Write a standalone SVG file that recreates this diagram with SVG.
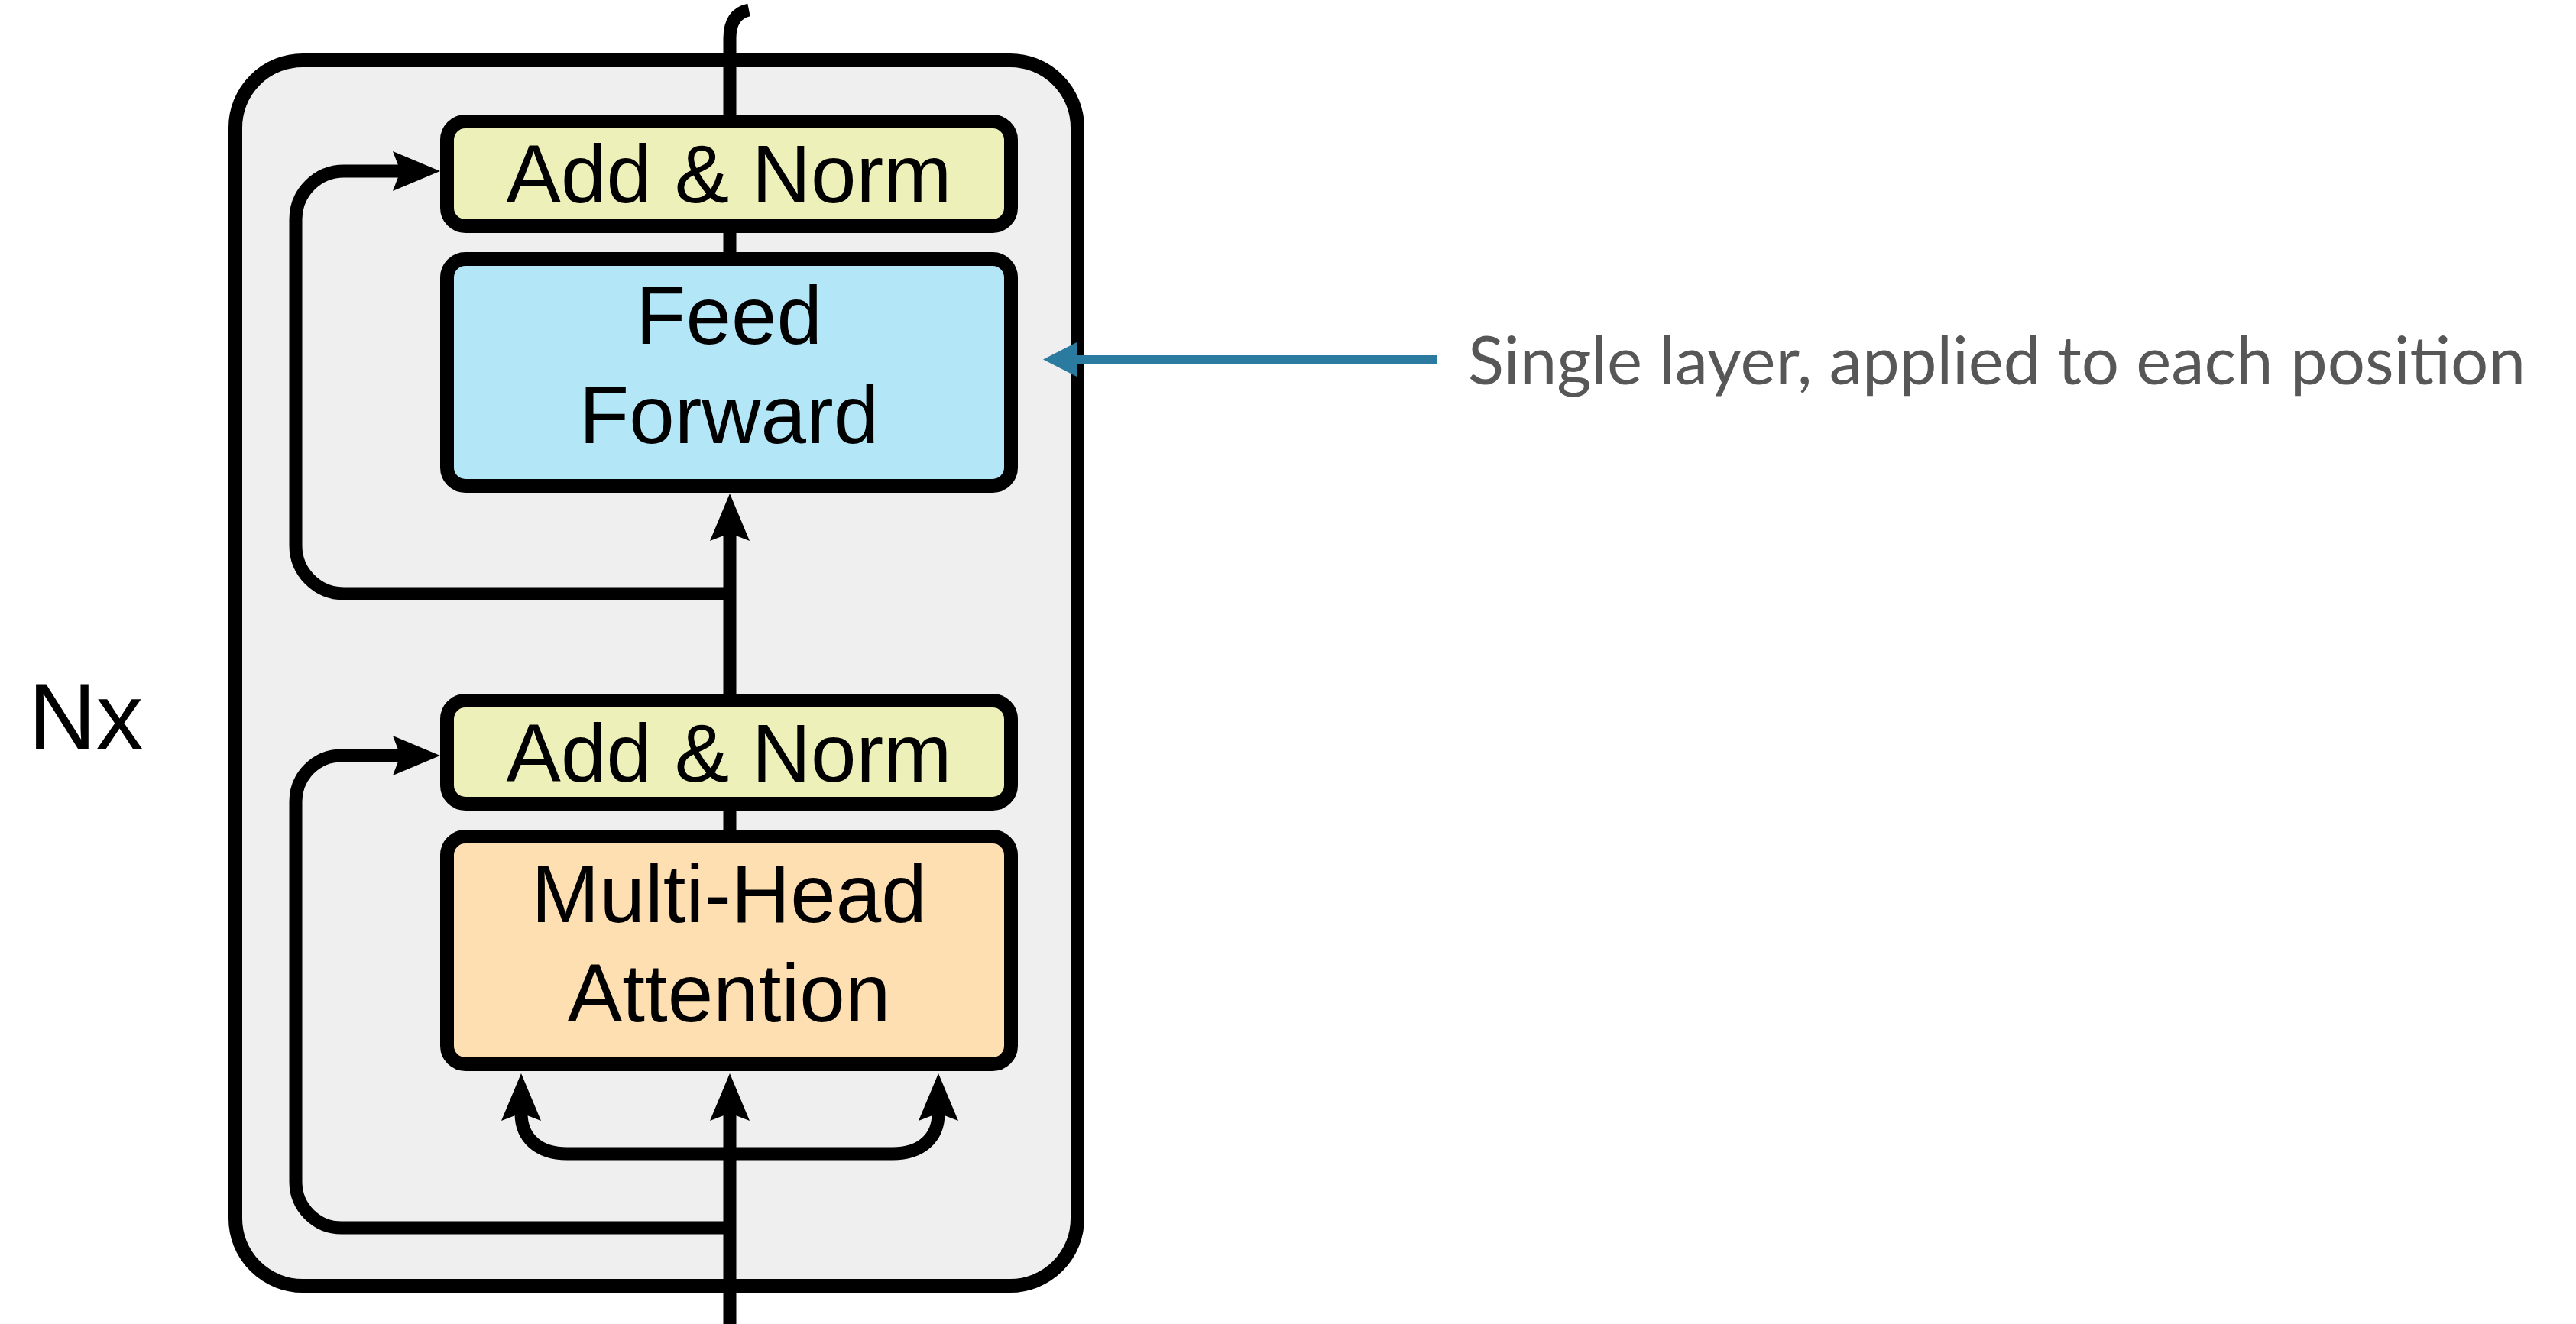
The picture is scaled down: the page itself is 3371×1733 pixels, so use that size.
<svg xmlns="http://www.w3.org/2000/svg" width="3371" height="1733" viewBox="0 0 3371 1733">
  <style>
    .box { stroke: #000; stroke-width: 18; }
    .lbl { font-family: "Liberation Sans", Arial, sans-serif; font-size: 107px; fill: #000; text-anchor: middle; }
    .conn { fill: none; stroke: #000; stroke-width: 17; }
    .note { font-family: Lato, "Open Sans", sans-serif; font-size: 87px; fill: #575757; text-anchor: end; }
  </style>
  <defs>
    <marker id="ah" markerUnits="userSpaceOnUse" viewBox="0 0 62 52" markerWidth="62" markerHeight="52" refX="10" refY="26" orient="auto">
      <path d="M0,0 L62,26 L0,52 L10,26 Z" fill="#000"/>
    </marker>
    <marker id="ahb" markerUnits="userSpaceOnUse" viewBox="0 0 44 45" markerWidth="44" markerHeight="45" refX="0" refY="22.5" orient="auto">
      <path d="M0,0 L44,22.5 L0,45 Z" fill="#2b7ba0"/>
    </marker>
  </defs>
  <rect width="3371" height="1733" fill="#fff"/>

  <g id="layer-frame">
    <rect x="308" y="79" width="1102" height="1604" rx="88" ry="88" fill="#efefef" stroke="#000" stroke-width="18"/>
  </g>

  <g id="connectors">
    <path class="conn" d="M 980 13 Q 955 18 955 50 L 955 165"/>
    <path class="conn" d="M 955 290 L 955 345"/>
    <path class="conn" d="M 955 922 L 955 698" marker-end="url(#ah)"/>
    <path class="conn" d="M 955 1046 L 955 1100"/>
    <path class="conn" d="M 955 1733 L 955 1457" marker-end="url(#ah)"/>
    <path class="conn" d="M 955 777 L 450 777 A 63 63 0 0 1 387 714 L 387 287 A 63 63 0 0 1 450 224 L 524 224" marker-end="url(#ah)"/>
    <path class="conn" d="M 955 1607 L 447 1607 A 60 60 0 0 1 387 1547 L 387 1049 A 60 60 0 0 1 447 989 L 524 989" marker-end="url(#ah)"/>
    <path class="conn" d="M 955 1510 L 742 1510 C 705 1510 682 1490 682 1457" marker-end="url(#ah)"/>
    <path class="conn" d="M 955 1510 L 1168 1510 C 1205 1510 1228 1490 1228 1457" marker-end="url(#ah)"/>
    <path d="M 1881 470.5 L 1409 470.5" fill="none" stroke="#2b7ba0" stroke-width="11" marker-end="url(#ahb)"/>
  </g>

  <g id="add-norm-top">
    <rect class="box" x="585" y="159" width="738" height="137" rx="24" fill="#eef0b9"/>
    <text class="lbl" x="954" y="265">Add &amp; Norm</text>
  </g>
  <g id="feed-forward">
    <rect class="box" x="585" y="339" width="738" height="297" rx="24" fill="#b3e6f6"/>
    <text class="lbl" x="954" y="450">Feed</text>
    <text class="lbl" x="954" y="580">Forward</text>
  </g>
  <g id="add-norm-bottom">
    <rect class="box" x="585" y="917" width="738" height="135" rx="24" fill="#eef0b9"/>
    <text class="lbl" x="954" y="1023">Add &amp; Norm</text>
  </g>
  <g id="multi-head-attention">
    <rect class="box" x="585" y="1095" width="738" height="298" rx="24" fill="#fedfb2"/>
    <text class="lbl" x="954" y="1207">Multi-Head</text>
    <text class="lbl" x="954" y="1337">Attention</text>
  </g>

  <g id="nx-label">
    <text x="37" y="980" font-family="Liberation Sans, Arial, sans-serif" font-size="123" fill="#000">Nx</text>
  </g>

  <g id="annotation">
    <text class="note" x="3305" y="503">Single layer, applied to each position</text>
  </g>
</svg>
